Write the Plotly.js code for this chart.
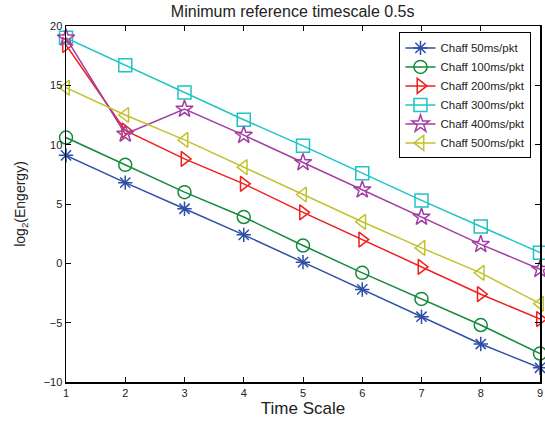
<!DOCTYPE html>
<html>
<head>
<meta charset="utf-8">
<script src="https://cdn.plot.ly/plotly-3.0.1.min.js"></script>
<style>html,body{margin:0;padding:0;background:#fff;}#chart{width:545px;height:421px;}</style>
</head>
<body>
<div id="chart"></div>
<script>
const timeScale = [1, 2, 3, 4, 5, 6, 7, 8, 9];
const chaff50  = [9.1, 6.8, 4.6, 2.4, 0.1, -2.2, -4.5, -6.8, -8.8];
const chaff100 = [10.6, 8.3, 6.0, 3.9, 1.5, -0.8, -3.0, -5.2, -7.6];
const chaff200 = [18.4, 11.2, 8.8, 6.7, 4.3, 2.0, -0.3, -2.6, -4.7];
const chaff300 = [19.0, 16.7, 14.4, 12.1, 9.9, 7.6, 5.3, 3.1, 0.9];
const chaff400 = [19.0, 10.9, 13.0, 10.8, 8.5, 6.2, 3.9, 1.6, -0.5];
const chaff500 = [14.8, 12.5, 10.4, 8.1, 5.8, 3.5, 1.3, -0.8, -3.4];
const names = ['Chaff 50ms/pkt','Chaff 100ms/pkt','Chaff 200ms/pkt','Chaff 300ms/pkt','Chaff 400ms/pkt','Chaff 500ms/pkt'];
const series = [chaff50, chaff100, chaff200, chaff300, chaff400, chaff500];
const colors = ['#2d4fa8','#138a3c','#f01e1e','#1fc4c4','#a23ea2','#c2c22e'];
const symbols = ['asterisk-open','circle-open','triangle-right-open','square-open','star-open','triangle-left-open'];

const traces = series.map((ys, i) => ({
  x: timeScale, y: ys, name: names[i], type: 'scatter', mode: 'lines+markers',
  line: {color: colors[i], width: 1.5},
  marker: {symbol: symbols[i], size: i === 0 ? 12 : 13, color: colors[i], line: {color: colors[i], width: 1.5}},
  cliponaxis: false
}));

const FONT = 'Liberation Sans, Arial, sans-serif';
const axisCommon = {
  showgrid: false, zeroline: false, showline: true, mirror: 'ticks',
  linecolor: '#000', linewidth: 1.5, ticks: 'inside', ticklen: 5, tickwidth: 1, tickcolor: '#000',
  tickfont: {family: FONT, size: 11, color: '#222'}, automargin: false
};

const layout = {
  width: 545, height: 421,
  margin: {l: 66, r: 5, t: 26, b: 39},
  paper_bgcolor: '#fff', plot_bgcolor: '#fff',
  title: {text: 'Minimum reference timescale 0.5s', font: {family: FONT, size: 16, color: '#222'}, x: 0.537, xanchor: 'center', y: 0.972, yanchor: 'middle'},
  xaxis: Object.assign({}, axisCommon, {range: [1, 9], tickvals: timeScale,
    title: {text: 'Time Scale', font: {family: FONT, size: 17, color: '#222'}, standoff: 2}}),
  yaxis: Object.assign({}, axisCommon, {range: [-10, 20], tickvals: [-10, -5, 0, 5, 10, 15, 20],
    ticktext: ['\u221210', '\u22125', '0', '5', '10', '15', '20'],
    title: {text: 'log<sub>2</sub>(Engergy)', font: {family: FONT, size: 14, color: '#222'}, standoff: 14}}),
  legend: {x: 0.982, y: 0.982, xanchor: 'right', yanchor: 'top', bgcolor: '#fff', bordercolor: '#000', borderwidth: 1,
    font: {family: FONT, size: 11.5, color: '#222'}, tracegroupgap: 0, itemwidth: 30},
  showlegend: true
};

Plotly.newPlot('chart', traces, layout, {displayModeBar: false, staticPlot: true});
</script>
</body>
</html>
